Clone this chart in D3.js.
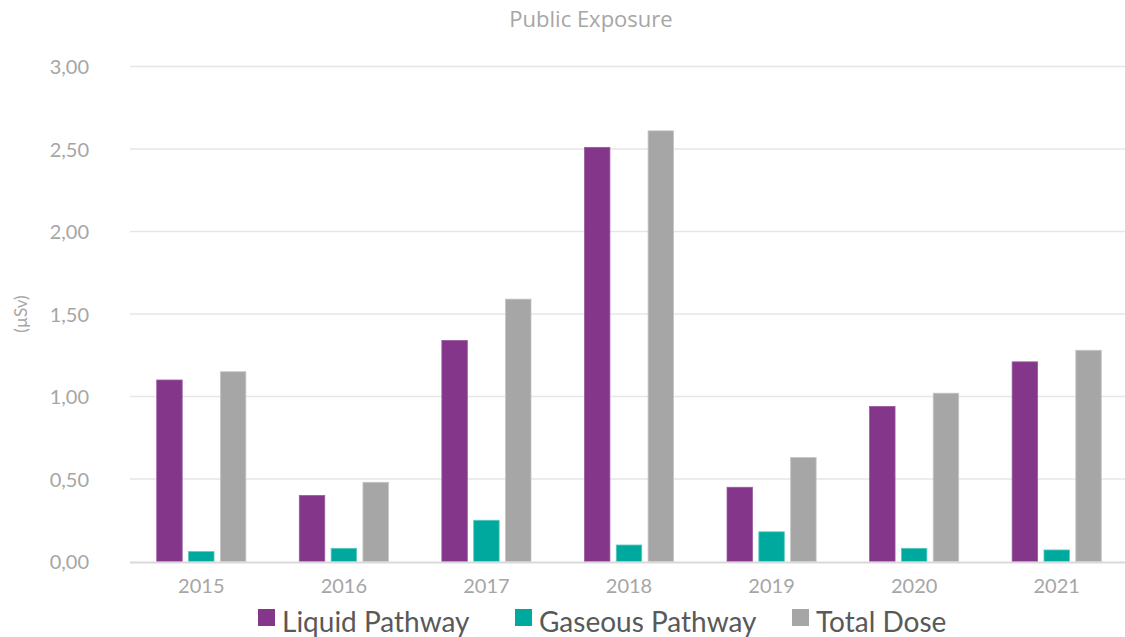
<!DOCTYPE html>
<html>
<head>
<meta charset="utf-8">
<script src="https://cdn.jsdelivr.net/npm/d3@7"></script>
<style>
  body { margin: 0; background: #fff; }
  text { font-family: "Lato", "Open Sans", sans-serif; }
</style>
</head>
<body>
<script>
// data
var years = ["2015", "2016", "2017", "2018", "2019", "2020", "2021"]
var seriesNames = ["Liquid Pathway", "Gaseous Pathway", "Total Dose"]
var liquid = [1.10, 0.40, 1.34, 2.51, 0.45, 0.94, 1.21]
var gaseous = [0.06, 0.08, 0.25, 0.10, 0.18, 0.08, 0.07]
var total = [1.15, 0.48, 1.59, 2.61, 0.63, 1.02, 1.28]
var yTicks = [0, 0.5, 1, 1.5, 2, 2.5, 3]

var colors = ["#84368a", "#00a99d", "#a6a6a6"]
var strokes = ["#9a5a9f", "#5cc8bf", "#c4c4c4"]

var W = 1125, H = 637
var mLeft = 130, mRight = 1128, mTop = 66.5, mBottom = 561.5

var svg = d3.select("body").append("svg")
  .attr("width", W)
  .attr("height", H)

var x = d3.scaleBand().domain(years).range([mLeft, mRight]).paddingInner(0.375).paddingOuter(0.1875)
var xs = d3.scaleBand().domain(seriesNames).range([0, x.bandwidth()]).paddingInner(0.2)
var y = d3.scaleLinear().domain([0, 3]).range([mBottom, mTop])

/* GRILLE */
svg.append("g")
  .selectAll("line")
  .data(yTicks.filter(d => d > 0))
  .enter()
  .append("line")
  .attr("x1", mLeft)
  .attr("x2", W)
  .attr("y1", d => y(d))
  .attr("y2", d => y(d))
  .attr("stroke", "#e6e6e6")
  .attr("stroke-width", 1.3)

/* AXE Y */
var yAxis = d3.axisLeft(y).tickValues(yTicks).tickSize(0).tickPadding(0)
  .tickFormat(d => d3.format(".2f")(d).replace(".", ","))

svg.append("g")
  .attr("transform", "translate(89,0)")
  .call(yAxis)
  .call(g => g.select(".domain").remove())
  .selectAll("text")
  .attr("fill", "#a6a6a6")
  .attr("font-size", "20px")
  .attr("dy", "0.35em")

/* BARRES */
var rows = years.map((yr, i) => ({ year: yr, values: [liquid[i], gaseous[i], total[i]] }))

svg.append("g")
  .selectAll("g")
  .data(rows)
  .enter()
  .append("g")
  .attr("transform", d => "translate(" + x(d.year) + ",0)")
  .selectAll("rect")
  .data(d => d.values.map((v, j) => ({ name: seriesNames[j], value: v, j: j })))
  .enter()
  .append("rect")
  .attr("x", d => xs(d.name))
  .attr("y", d => y(d.value))
  .attr("width", xs.bandwidth())
  .attr("height", d => y(0) - y(d.value))
  .attr("fill", d => colors[d.j])
  .attr("stroke", d => strokes[d.j])
  .attr("stroke-width", 0.8)

/* AXE X */
svg.append("line")
  .attr("x1", mLeft)
  .attr("x2", W)
  .attr("y1", mBottom + 1)
  .attr("y2", mBottom + 1)
  .attr("stroke", "#d9d9d9")
  .attr("stroke-width", 2)

var xAxis = d3.axisBottom(x).tickSize(0).tickPadding(0)
svg.append("g")
  .attr("transform", "translate(0," + (mBottom + 24) + ")")
  .call(xAxis)
  .call(g => g.select(".domain").remove())
  .selectAll("text")
  .attr("fill", "#a6a6a6")
  .attr("font-size", "20px")
  .attr("dy", "0.35em")

/* TITRES */
svg.append("text")
  .attr("x", 591)
  .attr("y", 27)
  .attr("text-anchor", "middle")
  .attr("fill", "#a6a6a6")
  .style("font-family", "'Open Sans', sans-serif")
  .attr("font-size", "22px")
  .text("Public Exposure")

svg.append("text")
  .attr("transform", "translate(27,314) rotate(-90)")
  .attr("text-anchor", "middle")
  .attr("fill", "#a6a6a6")
  .attr("font-size", "17px")
  .text("(µSv)")

/* LÉGENDE */
var legendX = [258, 515, 792]
var legend = svg.append("g")
  .selectAll("g")
  .data(seriesNames)
  .enter()
  .append("g")
  .attr("transform", (d, i) => "translate(" + legendX[i] + ",609)")

legend.append("rect")
  .attr("width", 17)
  .attr("height", 17)
  .attr("fill", (d, i) => colors[i])

legend.append("text")
  .attr("x", 24)
  .attr("y", 23)
  .attr("fill", "#595959")
  .attr("font-size", "28px")
  .text(d => d)
</script>
</body>
</html>
